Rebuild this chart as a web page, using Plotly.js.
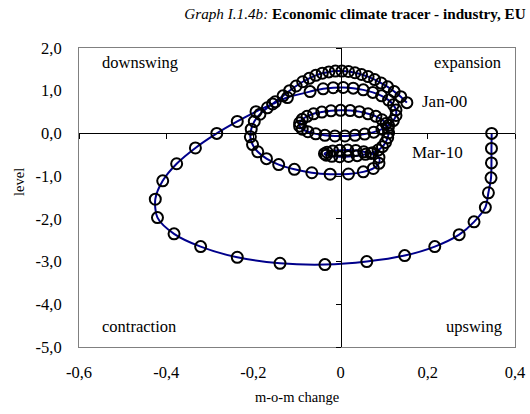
<!DOCTYPE html>
<html>
<head>
<meta charset="utf-8">
<script src="https://cdn.plot.ly/plotly-3.0.1.min.js"></script>
<style>html,body{margin:0;padding:0;background:#fff;}#chart{width:530px;height:414px;}</style>
</head>
<body>
<div id="chart"></div>
<script>
// m-o-m change (x) and level (y), Jan-00 ... Mar-10
var momChange = [
  0.152,0.138,0.123,0.108,0.093,0.078,0.063,0.048,0.033,0.018,0.003,-0.012,-0.027,-0.042,-0.057,-0.072,-0.087,-0.102,-0.117,-0.132,
  -0.15,-0.168,-0.185,-0.198,-0.205,-0.207,-0.202,-0.19,-0.17,-0.142,-0.106,-0.066,-0.024,0.018,0.052,0.075,0.088,0.088,
  0.07,0.053,0.035,0.016,-0.002,-0.018,-0.031,-0.037,-0.033,-0.02,-0.002,0.018,0.038,0.057,0.073,0.086,
  0.096,0.103,0.108,0.11,0.109,0.104,0.095,0.081,0.063,0.043,0.022,0.0,-0.022,-0.043,-0.062,-0.077,-0.088,-0.094,-0.094,-0.088,-0.075,-0.057,-0.036,-0.013,0.01,0.033,0.055,0.076,0.095,0.11,0.121,0.127,0.127,0.121,0.11,0.094,0.074,0.052,0.029,0.006,-0.017,-0.04,
  -0.07,-0.122,-0.156,-0.194,-0.237,-0.284,-0.333,-0.376,-0.408,-0.425,-0.42,-0.382,-0.321,-0.237,-0.139,-0.036,0.06,0.147,0.216,0.272,0.306,0.332,0.339,0.345,0.346,0.346,0.3465
];
var level = [
  0.72,0.86,0.98,1.09,1.18,1.26,1.33,1.38,1.42,1.45,1.46,1.46,1.44,1.41,1.36,1.29,1.21,1.11,1.0,0.88,
  0.74,0.6,0.45,0.28,0.1,-0.08,-0.26,-0.43,-0.59,-0.73,-0.84,-0.92,-0.955,-0.95,-0.9,-0.82,-0.7,-0.56,
  -0.47,-0.43,-0.40,-0.39,-0.395,-0.41,-0.44,-0.475,-0.51,-0.535,-0.545,-0.54,-0.52,-0.49,-0.45,-0.39,
  -0.31,-0.21,-0.1,0.01,0.12,0.23,0.32,0.4,0.46,0.51,0.535,0.54,0.53,0.5,0.46,0.4,0.33,0.25,0.17,0.1,0.04,-0.01,-0.045,-0.06,-0.06,-0.045,-0.015,0.03,0.1,0.19,0.3,0.42,0.55,0.67,0.78,0.88,0.96,1.02,1.06,1.075,1.07,1.045,
  0.98,0.84,0.69,0.51,0.28,0.0,-0.34,-0.71,-1.11,-1.54,-1.97,-2.35,-2.65,-2.9,-3.04,-3.07,-3.0,-2.86,-2.65,-2.37,-2.07,-1.73,-1.39,-1.04,-0.69,-0.35,0.0
];
var xTickVals = [-0.6,-0.4,-0.2,0,0.2,0.4];
var xTickText = ['-0,6','-0,4','-0,2','0','0,2','0,4'];
var yTickVals = [2,1,0,-1,-2,-3,-4,-5];
var yTickText = ['2,0','1,0','0,0','-1,0','-2,0','-3,0','-4,0','-5,0'];
var quadrantLabels = ['downswing','expansion','contraction','upswing'];
var pointLabels = ['Jan-00','Mar-10'];

var FONT = 'Liberation Serif, Times New Roman, serif';
var xRange = [-0.6,0.4], yRange = [-5,2];
var LBL = 16.5;

var traces = [
  {x: momChange, y: level, type:'scatter', mode:'lines+markers',
   line:{color:'#00008b', width:2, shape:'spline', smoothing:0.8},
   marker:{symbol:'circle-open', size:11, color:'#000000', line:{width:2, color:'#000000'}},
   hoverinfo:'x+y', showlegend:false},
  {x:[0], y:[0], xaxis:'x2', yaxis:'y2', type:'scatter', mode:'markers',
   marker:{opacity:0}, hoverinfo:'skip', showlegend:false}
];

var axisBase = {showgrid:false, zeroline:false, fixedrange:true};
function ann(text, px, py, anchor, size) {
  return {text:text, xref:'paper', yref:'paper', x:(px-79)/436, y:(347-py)/299,
          xanchor:anchor, yanchor:'middle', showarrow:false, font:{family:FONT, size:size}};
}
var layout = {
  width:530, height:414,
  margin:{l:79, r:15, t:48, b:67},
  paper_bgcolor:'#ffffff', plot_bgcolor:'#ffffff',
  font:{family:FONT, size:14, color:'#000'},
  title:{text:'<i>Graph I.1.4b:</i> <b>Economic climate tracer - industry, EU</b>',
         font:{family:FONT, size:15.2, color:'#000'},
         xref:'container', yref:'container', x:355/530, xanchor:'center', y:1-14/414, yanchor:'middle'},
  xaxis: Object.assign({}, axisBase, {range:xRange, tickvals:xTickVals, ticktext:xTickText,
         ticks:'', showline:true, mirror:true, linecolor:'#808080', linewidth:1,
         ticklabelstandoff:10, tickfont:{family:FONT, size:LBL}}),
  yaxis: Object.assign({}, axisBase, {range:yRange, tickvals:yTickVals, ticktext:yTickText,
         ticks:'', showline:true, mirror:true, linecolor:'#808080', linewidth:1,
         ticklabelstandoff:13, tickfont:{family:FONT, size:LBL}}),
  xaxis2: Object.assign({}, axisBase, {range:xRange, overlaying:'x', anchor:'free',
         position:(0-yRange[0])/(yRange[1]-yRange[0]), side:'bottom',
         tickvals:xTickVals, showticklabels:false, ticks:'outside', ticklen:5, tickcolor:'#000',
         showline:true, linecolor:'#000', linewidth:1}),
  yaxis2: Object.assign({}, axisBase, {range:yRange, overlaying:'y', anchor:'free',
         position:(0-xRange[0])/(xRange[1]-xRange[0]), side:'left',
         tickvals:yTickVals, showticklabels:false, ticks:'outside', ticklen:5, tickcolor:'#000',
         showline:true, linecolor:'#000', linewidth:1}),
  annotations:[
    ann(quadrantLabels[0], 100, 63, 'left', LBL),
    ann(quadrantLabels[1], 503, 63, 'right', LBL),
    ann(quadrantLabels[2], 100, 326, 'left', LBL),
    ann(quadrantLabels[3], 504, 326, 'right', LBL),
    ann(pointLabels[0], 420, 101, 'left', 17),
    ann(pointLabels[1], 410, 152, 'left', 17),
    ann('m-o-m change', 297, 397, 'center', 14.5),
    {text:'level', xref:'paper', yref:'paper', x:(19-79)/436, y:(347-182)/299, xanchor:'center', yanchor:'middle',
     textangle:-90, showarrow:false, font:{family:FONT, size:14.5}}
  ]
};
Plotly.newPlot('chart', traces, layout, {staticPlot:true, displayModeBar:false});
</script>
</body>
</html>
